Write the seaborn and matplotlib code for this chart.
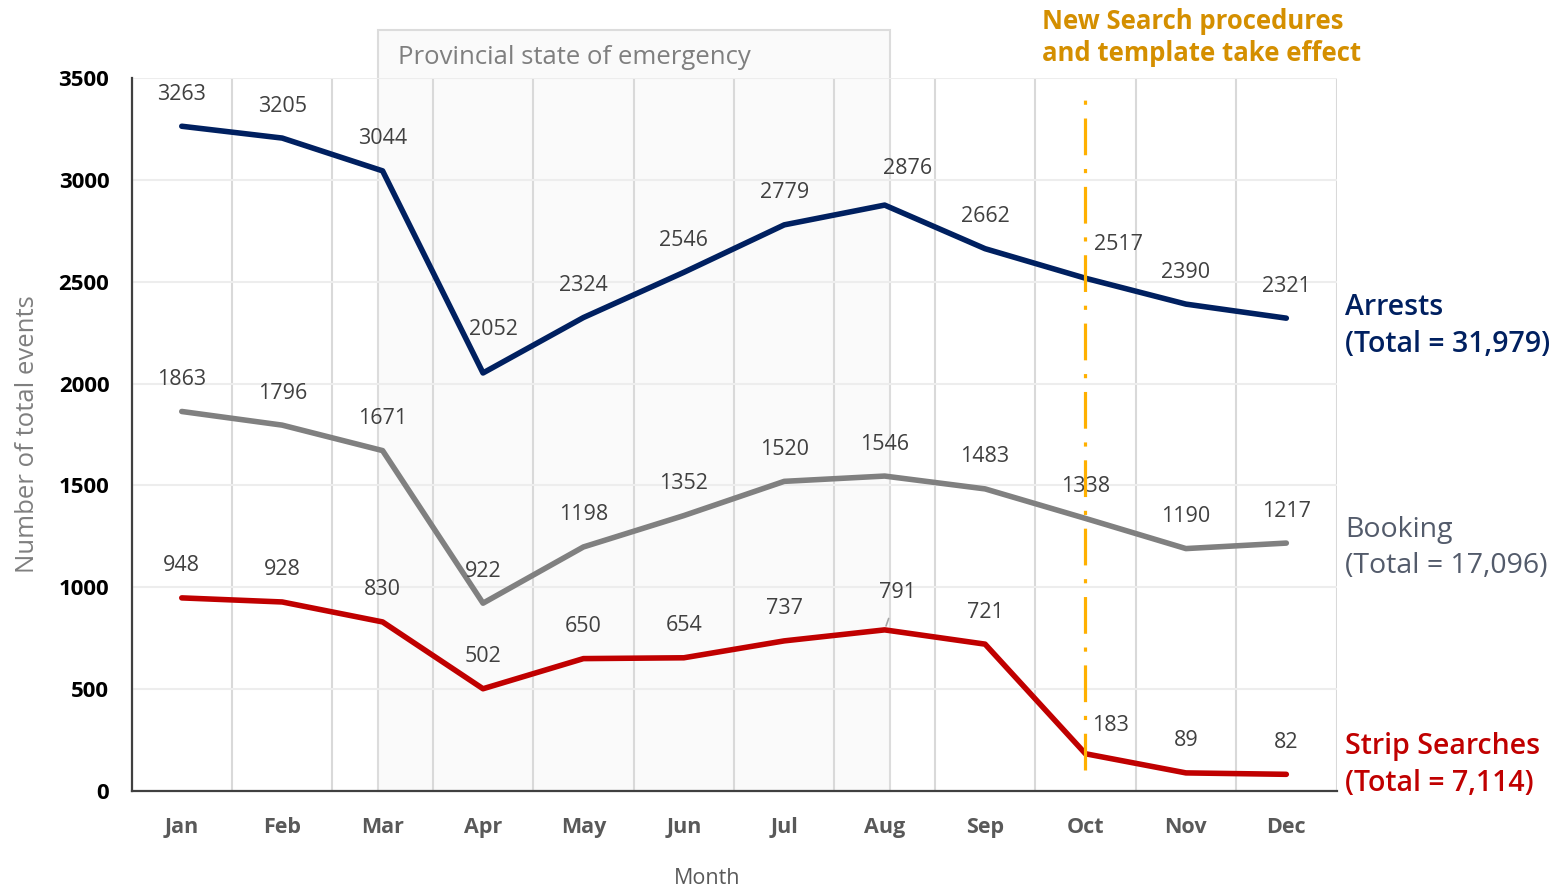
import numpy as np
import pandas as pd
import seaborn as sns
import matplotlib.pyplot as plt
from matplotlib.patches import Rectangle

# Data
months = ['Jan', 'Feb', 'Mar', 'Apr', 'May', 'Jun', 'Jul', 'Aug', 'Sep', 'Oct', 'Nov', 'Dec']
arrests = [3263, 3205, 3044, 2052, 2324, 2546, 2779, 2876, 2662, 2517, 2390, 2321]
booking = [1863, 1796, 1671, 922, 1198, 1352, 1520, 1546, 1483, 1338, 1190, 1217]
strip = [948, 928, 830, 502, 650, 654, 737, 791, 721, 183, 89, 82]
series_names = ['Arrests', 'Booking', 'Strip Searches']
totals = ['31,979', '17,096', '7,114']

df = pd.DataFrame({
    'Month': months * 3,
    'value': arrests + booking + strip,
    'series': np.repeat(series_names, len(months)),
})

colors = {'Arrests': '#002060', 'Booking': '#808080', 'Strip Searches': '#C00000'}
text_colors = {'Arrests': '#002060', 'Booking': '#535B6B', 'Strip Searches': '#C00000'}

sns.set_style('white')
plt.rcParams['font.family'] = ['Open Sans', 'DejaVu Sans']

fig = plt.figure(figsize=(15.55, 8.91), dpi=100)
ax = fig.add_axes([0.0846, 0.1122, 0.7749, 0.8003])

sns.lineplot(data=df, x='Month', y='value', hue='series', palette=colors,
             linewidth=4.0, legend=False, sort=False, ax=ax,
             solid_capstyle='round', solid_joinstyle='round', zorder=3)

ax.set_xlim(-0.5, 11.5)
ax.set_ylim(0, 3500)
ax.set_yticks(np.arange(0, 3501, 500))
ax.set_xticks(range(12))
ax.set_xticklabels(months)
ax.set_xticks(np.arange(-0.5, 12, 1), minor=True)
ax.tick_params(axis='both', which='both', length=0)
ax.tick_params(axis='y', pad=16, labelsize=16, labelcolor='black')
ax.tick_params(axis='x', pad=19, labelsize=15.5, labelcolor='#595959')
for lab in ax.get_yticklabels() + ax.get_xticklabels():
    lab.set_fontweight('bold')

ax.grid(False)
ax.grid(which='major', axis='y', color='#EDEDED', lw=1.5)
ax.grid(which='minor', axis='x', color='#D9D9D9', lw=1.5)
ax.set_axisbelow(True)
for s in ['top', 'right']:
    ax.spines[s].set_visible(False)
for s in ['left', 'bottom']:
    ax.spines[s].set_color('#404040')
    ax.spines[s].set_linewidth(1.6)

ax.set_ylabel('Number of total events', fontsize=18.5, color='#7F7F7F')
ax.yaxis.set_label_coords(-0.076, 0.5)
ax.set_xlabel('Month', fontsize=15.5, color='#595959')
ax.xaxis.set_label_coords(0.4776, -0.108)

# Provincial state of emergency band
ax.add_patch(Rectangle((1.95, 0), 5.1, 3735, facecolor='#FAFAFA', edgecolor='#DCDCDC',
                       lw=1.5, clip_on=False, zorder=0.4))
ax.text(2.15, 3600, 'Provincial state of emergency', fontsize=18.5, color='#7F7F7F',
        ha='left', va='center', clip_on=False)

# New procedures marker
ax.plot([9, 9], [103, 3417], color='#FFB000', lw=2.3,
        linestyle=(0, (11.5, 4.3, 1.3, 4.3)), zorder=5)
ax.text(8.57, 3700, 'New Search procedures\nand template take effect', fontsize=18.5,
        fontweight='bold', color='#D48F00', ha='left', va='center', linespacing=1.25,
        clip_on=False)

# Data labels (offsets in pixels: right, up)
special = {('Arrests', 3): (10, 43), ('Arrests', 7): (23, 37), ('Arrests', 9): (33, 34),
           ('Strip Searches', 7): (13, 37), ('Strip Searches', 9): (25, 28)}
for name, vals in zip(series_names, [arrests, booking, strip]):
    for i, v in enumerate(vals):
        dx, dy = special.get((name, i), (0, 32))
        kw = {}
        if (name, i) == ('Strip Searches', 7):
            kw['arrowprops'] = dict(arrowstyle='-', color='#A6A6A6', lw=1.2,
                                    shrinkA=9, shrinkB=3)
        ax.annotate(str(v), xy=(i, v), xytext=(dx * 0.72, dy * 0.72),
                    textcoords='offset points', ha='center', va='center',
                    fontsize=15.5, color='#404040', zorder=4, **kw)

# Series end labels
end_offsets = {'Arrests': -8, 'Booking': -5, 'Strip Searches': 9}
end_weights = {'Arrests': 'semibold', 'Booking': 'normal', 'Strip Searches': 'semibold'}
for name, vals, tot in zip(series_names, [arrests, booking, strip], totals):
    ax.annotate(f'{name}\n(Total = {tot})', xy=(11.5, vals[-1]),
                xytext=(6, end_offsets[name] * 0.72), textcoords='offset points',
                ha='left', va='center', fontsize=20.5, color=text_colors[name],
                fontweight=end_weights[name], linespacing=1.35, annotation_clip=False)

fig.savefig('out.png', dpi=100)
